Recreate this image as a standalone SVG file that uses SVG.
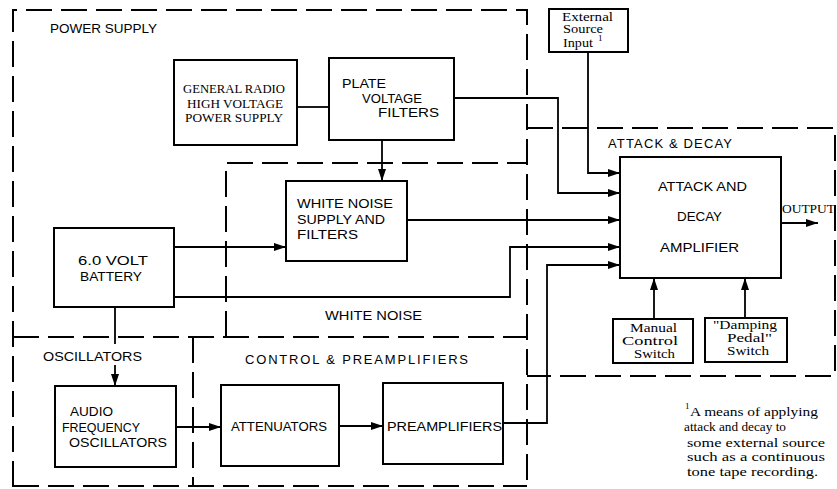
<svg xmlns="http://www.w3.org/2000/svg" width="837" height="489" viewBox="0 0 837 489">
<style>
.bg{fill:#fff}
.region{fill:none;stroke:#000;stroke-width:2;stroke-dasharray:26 9}
.box{fill:#fff;stroke:#000;stroke-width:2}
.conn{fill:none;stroke:#000;stroke-width:1.8}
.arr{marker-end:url(#ah)}
.lab{font-family:"Liberation Sans",Arial,sans-serif;font-size:13px;fill:#000}
.ser{font-family:"Liberation Serif","Times New Roman",serif;font-size:13px;fill:#000}
.sm{font-size:11.5px}
.sup{font-family:"Liberation Serif","Times New Roman",serif;font-size:9px;fill:#000}
</style>
<defs>
<marker id="ah" markerUnits="userSpaceOnUse" markerWidth="13" markerHeight="8" refX="12" refY="4" orient="auto">
<path d="M0,0 L12,4 L0,8 z" fill="#000"/>
</marker>
</defs>
<rect class="bg" x="0" y="0" width="837" height="489"/>

<g id="region-power-supply">
<path class="region" d="M13,487 V10 H527 V485"/>
<text class="lab" x="50" y="33" textLength="107" lengthAdjust="spacingAndGlyphs">POWER SUPPLY</text>
</g>
<g id="region-white-noise">
<path class="region" d="M226,337 V163 H527"/>
<text class="lab" x="325" y="320" textLength="97" lengthAdjust="spacingAndGlyphs">WHITE NOISE</text>
</g>
<g id="region-oscillators">
<path class="region" d="M13,337 H527"/>
<path class="region" d="M193,337 V486"/>
<text class="lab" x="43" y="361" textLength="99" lengthAdjust="spacingAndGlyphs">OSCILLATORS</text>
</g>
<g id="region-control-preamplifiers">
<path class="region" d="M13,486 H527"/>
<text class="lab" x="245" y="364" textLength="223" lengthAdjust="spacing">CONTROL &amp; PREAMPLIFIERS</text>
</g>
<g id="region-attack-decay">
<path class="region" d="M527,128 H835 V376 H527"/>
<text class="lab" x="608" y="148" textLength="124" lengthAdjust="spacing">ATTACK &amp; DECAY</text>
</g>

<g id="connectors">
<path class="conn" d="M297,107 H329"/>
<path class="conn arr" d="M382,140 V181"/>
<path class="conn arr" d="M454,98 H558 V193 H620"/>
<path class="conn arr" d="M588,52 V173 H620"/>
<path class="conn arr" d="M407,220 H620"/>
<path class="conn arr" d="M174,247 H286"/>
<path class="conn arr" d="M174,297 H510 V247 H620"/>
<path class="conn" d="M115,307 V344"/>
<path class="conn arr" d="M115,365 V386"/>
<path class="conn arr" d="M176,427 H221"/>
<path class="conn arr" d="M339,426 H383"/>
<path class="conn arr" d="M503,423 H547 V265 H620"/>
<path class="conn arr" d="M654,319 V278"/>
<path class="conn arr" d="M745,318 V278"/>
<path class="conn arr" d="M781,223 H818"/>
</g>

<g id="node-general-radio">
<rect class="box" x="174" y="60" width="123" height="85"/>
<text class="ser" x="183" y="93" textLength="102" lengthAdjust="spacingAndGlyphs">GENERAL RADIO</text>
<text class="ser" x="187" y="107.5" textLength="96" lengthAdjust="spacingAndGlyphs">HIGH VOLTAGE</text>
<text class="ser" x="185" y="122" textLength="98" lengthAdjust="spacingAndGlyphs">POWER SUPPLY</text>
</g>
<g id="node-plate-voltage-filters">
<rect class="box" x="329" y="58" width="125" height="82"/>
<text class="lab" x="342" y="88" textLength="44" lengthAdjust="spacingAndGlyphs">PLATE</text>
<text class="lab" x="362" y="103" textLength="60" lengthAdjust="spacingAndGlyphs">VOLTAGE</text>
<text class="lab" x="378" y="117" textLength="61" lengthAdjust="spacingAndGlyphs">FILTERS</text>
</g>
<g id="node-external-source">
<rect class="box" x="549" y="9" width="79" height="43"/>
<text class="ser sm" x="562" y="21" textLength="51" lengthAdjust="spacingAndGlyphs">External</text>
<text class="ser sm" x="563" y="33" textLength="40" lengthAdjust="spacingAndGlyphs">Source</text>
<text class="ser sm" x="563" y="47" textLength="30" lengthAdjust="spacingAndGlyphs">Input</text>
<text class="sup" x="598" y="41">1</text>
</g>
<g id="node-white-noise-supply">
<rect class="box" x="286" y="181" width="121" height="80"/>
<text class="lab" x="297" y="208" textLength="96" lengthAdjust="spacingAndGlyphs">WHITE NOISE</text>
<text class="lab" x="297" y="224" textLength="88" lengthAdjust="spacingAndGlyphs">SUPPLY AND</text>
<text class="lab" x="297" y="239" textLength="61" lengthAdjust="spacingAndGlyphs">FILTERS</text>
</g>
<g id="node-battery">
<rect class="box" x="54" y="228" width="120" height="79"/>
<text class="lab" x="78" y="265" textLength="70" lengthAdjust="spacingAndGlyphs">6.0 VOLT</text>
<text class="lab" x="80" y="281" textLength="62" lengthAdjust="spacingAndGlyphs">BATTERY</text>
</g>
<g id="node-attack-decay-amplifier">
<rect class="box" x="620" y="157" width="161" height="121"/>
<text class="lab" x="658" y="191" textLength="89" lengthAdjust="spacingAndGlyphs">ATTACK AND</text>
<text class="lab" x="677" y="221" textLength="45" lengthAdjust="spacingAndGlyphs">DECAY</text>
<text class="lab" x="660" y="252" textLength="79" lengthAdjust="spacingAndGlyphs">AMPLIFIER</text>
</g>
<g id="node-output">
<text class="ser" x="782" y="213" textLength="53" lengthAdjust="spacingAndGlyphs">OUTPUT</text>
</g>
<g id="node-manual-control">
<rect class="box" x="613" y="319" width="80" height="44"/>
<text class="ser sm" x="630" y="332" textLength="47" lengthAdjust="spacingAndGlyphs">Manual</text>
<text class="ser sm" x="622" y="345" textLength="56" lengthAdjust="spacingAndGlyphs">Control</text>
<text class="ser sm" x="634" y="358" textLength="41" lengthAdjust="spacingAndGlyphs">Switch</text>
</g>
<g id="node-damping-pedal">
<rect class="box" x="705" y="318" width="82" height="44"/>
<text class="ser sm" x="713" y="329" textLength="64" lengthAdjust="spacingAndGlyphs">"Damping</text>
<text class="ser sm" x="727" y="342" textLength="45" lengthAdjust="spacingAndGlyphs">Pedal"</text>
<text class="ser sm" x="727" y="355" textLength="42" lengthAdjust="spacingAndGlyphs">Switch</text>
</g>
<g id="node-audio-oscillators">
<rect class="box" x="55" y="386" width="121" height="81"/>
<text class="lab" x="70" y="416" textLength="43" lengthAdjust="spacingAndGlyphs">AUDIO</text>
<text class="lab" x="62" y="432" textLength="78" lengthAdjust="spacingAndGlyphs">FREQUENCY</text>
<text class="lab" x="69" y="447" textLength="98" lengthAdjust="spacingAndGlyphs">OSCILLATORS</text>
</g>
<g id="node-attenuators">
<rect class="box" x="221" y="385" width="118" height="81"/>
<text class="lab" x="231" y="431" textLength="96" lengthAdjust="spacingAndGlyphs">ATTENUATORS</text>
</g>
<g id="node-preamplifiers">
<rect class="box" x="383" y="383" width="120" height="81"/>
<text class="lab" x="387" y="431" textLength="115" lengthAdjust="spacingAndGlyphs">PREAMPLIFIERS</text>
</g>
<g id="footnote">
<text class="sup" x="685" y="409">1</text>
<text class="ser" x="690" y="416" textLength="128" lengthAdjust="spacingAndGlyphs">A means of applying</text>
<text class="ser" x="684" y="431" textLength="102" lengthAdjust="spacingAndGlyphs">attack and decay to</text>
<text class="ser" x="687" y="447" textLength="138" lengthAdjust="spacingAndGlyphs">some external source</text>
<text class="ser" x="687" y="461" textLength="138" lengthAdjust="spacingAndGlyphs">such as a continuous</text>
<text class="ser" x="687" y="476" textLength="131" lengthAdjust="spacingAndGlyphs">tone tape recording.</text>
</g>
</svg>
